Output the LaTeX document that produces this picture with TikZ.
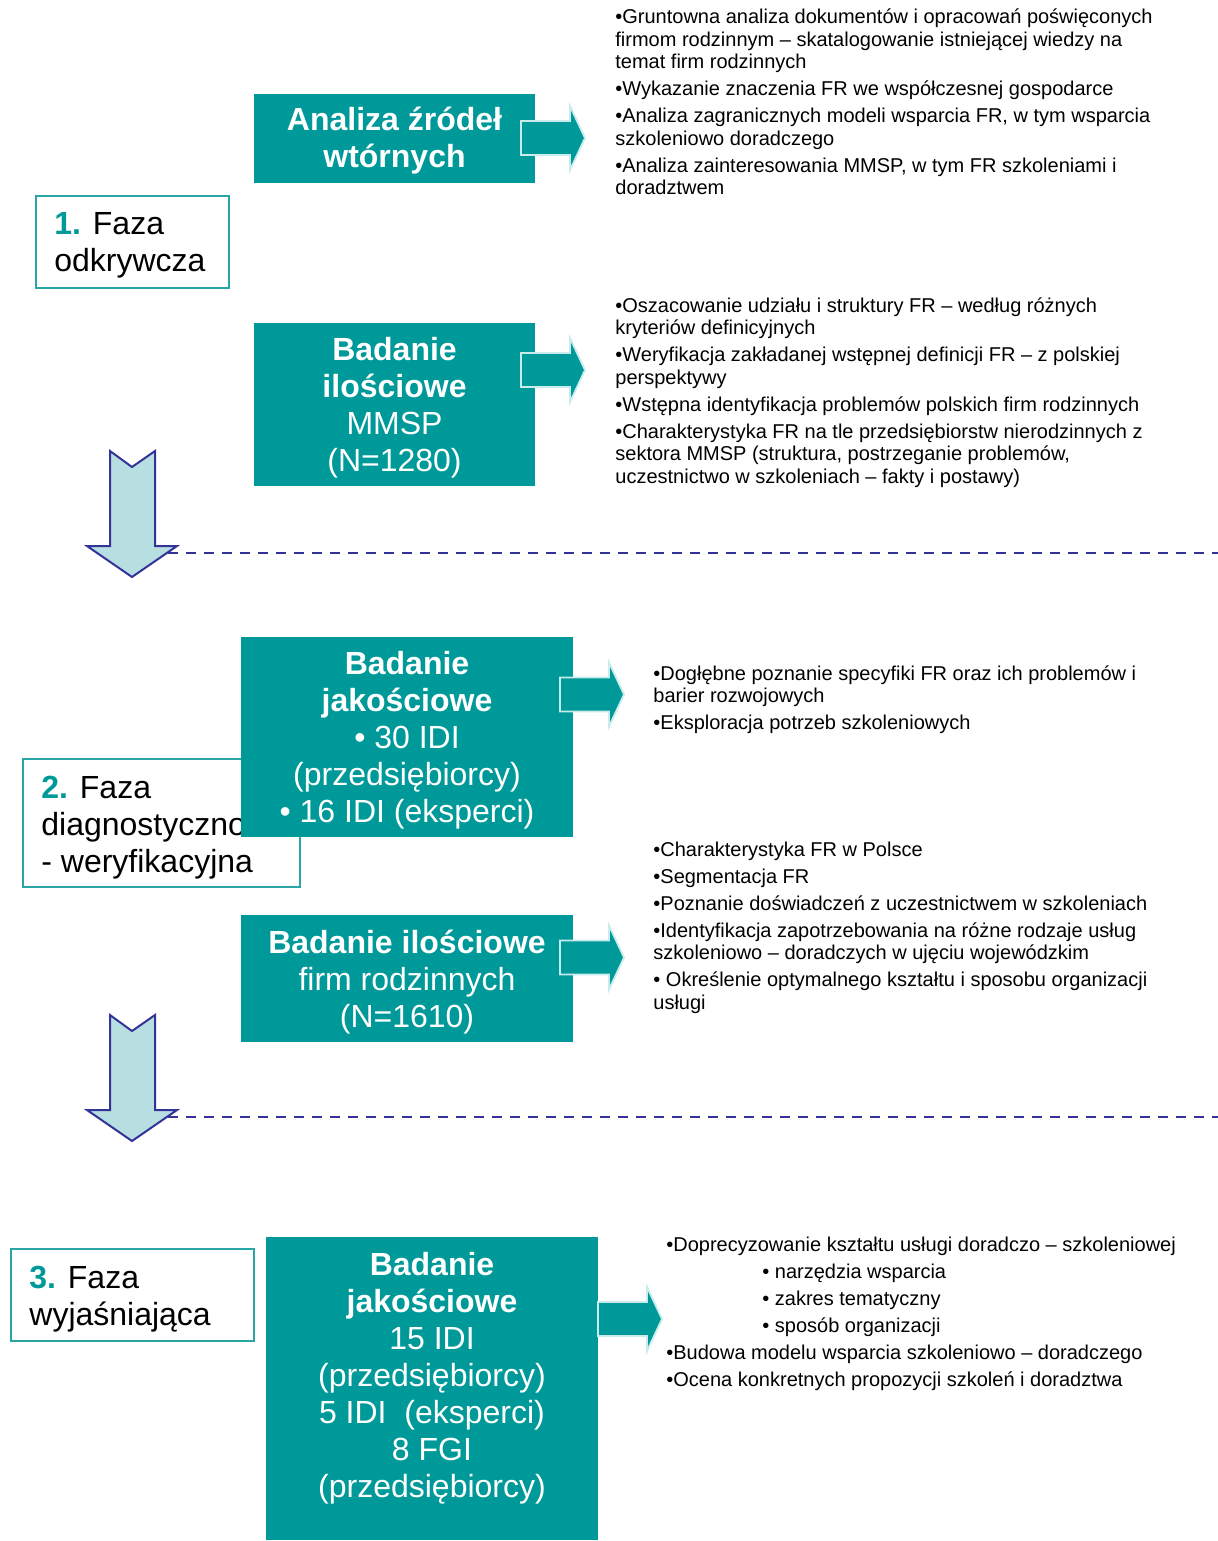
\documentclass[tikz,border=0pt]{standalone}
\usepackage{fontspec}
\setmainfont{Liberation Sans}
\definecolor{teal1}{RGB}{0,153,153}
\definecolor{phaseline}{RGB}{40,165,165}
\definecolor{arrowline}{RGB}{200,235,235}
\definecolor{lightblue}{RGB}{183,222,225}
\definecolor{darkblue}{RGB}{51,51,153}
\newcommand\tabT[2]{\begin{tabular}[t]{@{}#1@{}}#2\end{tabular}}
\newcommand\phnum[1]{\textbf{\color{teal1}#1}}
\tikzset{
  tealbox/.style={fill=teal1, draw=none, inner sep=0},
  phasebox/.style={draw=phaseline, line width=1pt, fill=white},
  boxtxt/.style={text=white, font=\fontsize{16}{18.5}\selectfont, anchor=base, inner sep=0},
  phasetxt/.style={font=\fontsize{16}{18.5}\selectfont, anchor=base west, inner sep=0},
  bultxt/.style={font=\fontsize{10}{11.25}\selectfont, anchor=base west, inner sep=0},
  rarrow/.pic={\path[fill=teal1, draw=arrowline, line width=0.9pt]
     (0,-17) -- (49,-17) -- (49,-32) -- (64,0) -- (49,32) -- (49,17) -- (0,17) -- cycle;},
  darrow/.pic={\path[fill=lightblue, draw=darkblue, line width=1pt, line join=miter]
     (-22,0) -- (0,16) -- (23,0) -- (23,95) -- (45,95) -- (0,126) -- (-45,95) -- (-22,95) -- cycle;},
  sepline/.style={draw=darkblue, line width=1.4pt, dash pattern=on 5pt off 4pt}
}
\begin{document}
\begin{tikzpicture}[x=0.5pt,y=-0.5pt]
\useasboundingbox (0,0) rectangle (1218,1541);

% ---------- Phase 1 ----------
\path[phasebox] (36,196) rectangle (229,288);
\node[phasetxt] (p1) at (54,234) {\tabT{l}{\phnum{1.} Faza\\odkrywcza}};

\node[tealbox, minimum width=140.5pt, minimum height=44.5pt] (A) at (394.5,138.5) {};
\node[boxtxt] (Atxt) at (394.5,131) {\tabT{c}{\textbf{Analiza źródeł}\\\textbf{wtórnych}}};
\pic (arrA) at (521,138) {rarrow};
\node[bultxt] (Abul) at (615,24) {\tabT{l}{%
•Gruntowna analiza dokumentów i opracowań poświęconych\\
firmom rodzinnym – skatalogowanie istniejącej wiedzy na\\
temat firm rodzinnych\\[2.25pt]
•Wykazanie znaczenia FR we współczesnej gospodarce\\[2.25pt]
•Analiza zagranicznych modeli wsparcia FR, w tym wsparcia\\
szkoleniowo doradczego\\[2.25pt]
•Analiza zainteresowania MMSP, w tym FR szkoleniami i\\
doradztwem}};

\node[tealbox, minimum width=140.5pt, minimum height=81.5pt] (B) at (394.5,404.5) {};
\node[boxtxt] (Btxt) at (394.5,360) {\tabT{c}{\textbf{Badanie}\\\textbf{ilościowe}\\MMSP\\(N=1280)}};
\pic (arrB) at (521,370) {rarrow};
\node[bultxt] (Bbul) at (615,312) {\tabT{l}{%
•Oszacowanie udziału i struktury FR – według różnych\\
kryteriów definicyjnych\\[2.25pt]
•Weryfikacja zakładanej wstępnej definicji FR – z polskiej\\
perspektywy\\[2.25pt]
•Wstępna identyfikacja problemów polskich firm rodzinnych\\[2.25pt]
•Charakterystyka FR na tle przedsiębiorstw nierodzinnych z\\
sektora MMSP (struktura, postrzeganie problemów,\\
uczestnictwo w szkoleniach – fakty i postawy)}};

% separator 1
\coordinate (s1a) at (132,553);
\coordinate (s1b) at (1218,553);
\draw[sepline] (s1a) -- (s1b);
\pic (down1) at (132,451) {darrow};

% ---------- Phase 2 ----------
\path[phasebox] (23,759) rectangle (300,887);
\node[phasetxt] (p2) at (41,798) {\tabT{l}{\phnum{2.} Faza\\diagnostyczno\\- weryfikacyjna}};

\node[tealbox, minimum width=166pt, minimum height=100pt] (C) at (407,737) {};
\node[boxtxt] (Ctxt) at (407,674) {\tabT{c}{\textbf{Badanie}\\\textbf{jakościowe}\\• 30 IDI\\(przedsiębiorcy)\\• 16 IDI (eksperci)}};
\pic (arrC) at (560,694.5) {rarrow};
\node[bultxt] (Cbul) at (653,680) {\tabT{l}{%
•Dogłębne poznanie specyfiki FR oraz ich problemów i\\
barier rozwojowych\\[2.25pt]
•Eksploracja potrzeb szkoleniowych}};

\node[tealbox, minimum width=166pt, minimum height=63.5pt] (D) at (407,978.5) {};
\node[boxtxt] (Dtxt) at (407,953) {\tabT{c}{\textbf{Badanie ilościowe}\\firm rodzinnych\\(N=1610)}};
\pic (arrD) at (560,957.5) {rarrow};
\node[bultxt] (Dbul) at (653,856) {\tabT{l}{%
•Charakterystyka FR w Polsce\\[2.25pt]
•Segmentacja FR\\[2.25pt]
•Poznanie doświadczeń z uczestnictwem w szkoleniach\\[2.25pt]
•Identyfikacja zapotrzebowania na różne rodzaje usług\\
szkoleniowo – doradczych w ujęciu wojewódzkim\\[2.25pt]
• Określenie optymalnego kształtu i sposobu organizacji\\
usługi}};

% separator 2
\coordinate (s2a) at (132,1117);
\coordinate (s2b) at (1218,1117);
\draw[sepline] (s2a) -- (s2b);
\pic (down2) at (132,1015) {darrow};

% ---------- Phase 3 ----------
\path[phasebox] (11,1249) rectangle (254,1341);
\node[phasetxt] (p3) at (29,1288) {\tabT{l}{\phnum{3.} Faza\\wyjaśniająca}};

\node[tealbox, minimum width=166pt, minimum height=151.5pt] (E) at (432,1388.5) {};
\node[boxtxt] (Etxt) at (432,1275) {\tabT{c}{\textbf{Badanie}\\\textbf{jakościowe}\\15 IDI\\(przedsiębiorcy)\\5 IDI~ (eksperci)\\8 FGI\\(przedsiębiorcy)}};
\pic (arrE) at (598,1319) {rarrow};
\node[bultxt] (Ebul) at (666,1251) {\tabT{l}{%
•Doprecyzowanie kształtu usługi doradczo – szkoleniowej\\[2.25pt]
\hspace{48pt}• narzędzia wsparcia\\[2.25pt]
\hspace{48pt}• zakres tematyczny\\[2.25pt]
\hspace{48pt}• sposób organizacji\\[2.25pt]
•Budowa modelu wsparcia szkoleniowo – doradczego\\[2.25pt]
•Ocena konkretnych propozycji szkoleń i doradztwa}};
\end{tikzpicture}
\end{document}
